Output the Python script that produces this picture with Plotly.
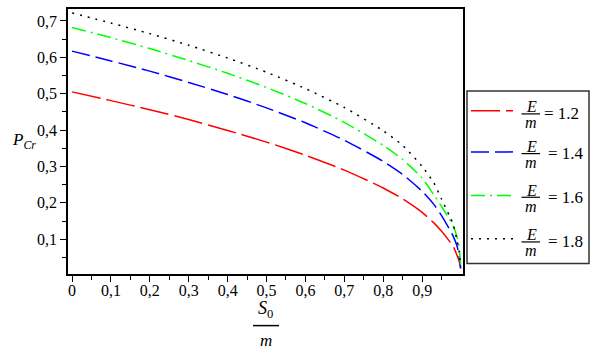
import plotly.graph_objects as go

# ---------------- data ----------------
s_over_m = [0, 0.1, 0.2, 0.3, 0.4, 0.5, 0.6, 0.7, 0.8, 0.85, 0.9, 0.93, 0.95,
            0.97, 0.98, 0.99, 0.995, 0.999]
p_e12 = [0.505, 0.481, 0.456, 0.429, 0.399, 0.367, 0.331, 0.290, 0.241, 0.211,
         0.174, 0.145, 0.122, 0.095, 0.080, 0.055, 0.040, 0.020]
p_e14 = [0.617, 0.590, 0.562, 0.531, 0.498, 0.461, 0.420, 0.372, 0.314, 0.278,
         0.232, 0.196, 0.165, 0.128, 0.108, 0.080, 0.055, 0.020]
p_e16 = [0.682, 0.654, 0.624, 0.591, 0.556, 0.517, 0.473, 0.421, 0.358, 0.319,
         0.268, 0.222, 0.190, 0.155, 0.136, 0.105, 0.078, 0.025]
p_e18 = [0.722, 0.694, 0.665, 0.633, 0.598, 0.559, 0.514, 0.462, 0.398, 0.358,
         0.300, 0.255, 0.210, 0.165, 0.140, 0.095, 0.065, 0.030]
e_over_m = ["1.2", "1.4", "1.6", "1.8"]

x_tickvals = [0, 0.1, 0.2, 0.3, 0.4, 0.5, 0.6, 0.7, 0.8, 0.9]
x_ticktext = ["0", "0,1", "0,2", "0,3", "0,4", "0,5", "0,6", "0,7", "0,8", "0,9"]
y_tickvals = [0.1, 0.2, 0.3, 0.4, 0.5, 0.6, 0.7]
y_ticktext = ["0,1", "0,2", "0,3", "0,4", "0,5", "0,6", "0,7"]

series = [p_e12, p_e14, p_e16, p_e18]
colors = ["#ff0000", "#0000ff", "#00ff00", "#000000"]
dashes = ["29px,6px", "18px,6px", "14px,5px,2px,5px", "2px,6px"]

# ---------------- layout helpers (pixel -> paper) ----------------
W, H = 599, 355
L, R, T, B = 68, 463, 7, 274


def px(x):
    return (x - L) / (R - L)


def py(y):
    return (B - y) / (B - T)


FONT = "Liberation Serif"

fig = go.Figure()
for vals, col, dsh, e in zip(series, colors, dashes, e_over_m):
    fig.add_trace(go.Scatter(
        x=s_over_m, y=vals, mode="lines",
        line=dict(color=col, width=1.5, dash=dsh, shape="spline", smoothing=0.6),
        name="E/m = " + e, showlegend=False,
    ))

annotations = []
shapes = []

# y-axis title P_Cr
annotations.append(dict(
    x=px(24), y=py(140), xref="paper", yref="paper",
    text="<i>P</i><sub><i>Cr</i></sub>", showarrow=False,
    font=dict(family=FONT, size=17, color="black"),
    xanchor="center", yanchor="middle"))

# x-axis title S_0 / m
annotations.append(dict(
    x=px(265), y=py(310), xref="paper", yref="paper",
    text="<i>S</i><sub>0</sub>", showarrow=False,
    font=dict(family=FONT, size=18, color="black"),
    xanchor="center", yanchor="middle"))
shapes.append(dict(type="line", xref="paper", yref="paper",
                   x0=px(253), x1=px(279), y0=py(326), y1=py(326),
                   line=dict(color="black", width=1.5)))
annotations.append(dict(
    x=px(266), y=py(341), xref="paper", yref="paper",
    text="<i>m</i>", showarrow=False,
    font=dict(family=FONT, size=17, color="black"),
    xanchor="center", yanchor="middle"))

# legend box
shapes.append(dict(type="rect", xref="paper", yref="paper",
                   x0=px(467), x1=px(589), y0=py(89.5), y1=py(263.5),
                   line=dict(color="#333333", width=1.5), fillcolor="white"))

bars = [112.7, 152.7, 196.7, 241.7]
lines_y = [109.5, 151, 195, 238.5]
eq_x = [542, 546, 546, 546]
for by, ly, col, dsh, e, ex in zip(bars, lines_y, colors, dashes, e_over_m, eq_x):
    shapes.append(dict(type="line", xref="paper", yref="paper",
                       x0=px(471), x1=px(513), y0=py(ly), y1=py(ly),
                       line=dict(color=col, width=1.5, dash=dsh)))
    shapes.append(dict(type="line", xref="paper", yref="paper",
                       x0=px(521.5), x1=px(540), y0=py(by), y1=py(by),
                       line=dict(color="black", width=1.2)))
    annotations.append(dict(
        x=px(531), y=py(by - 7), xref="paper", yref="paper",
        text="<i>E</i>", showarrow=False,
        font=dict(family=FONT, size=16, color="black"),
        xanchor="center", yanchor="middle"))
    annotations.append(dict(
        x=px(531), y=py(by + 9), xref="paper", yref="paper",
        text="<i>m</i>", showarrow=False,
        font=dict(family=FONT, size=16, color="black"),
        xanchor="center", yanchor="middle"))
    annotations.append(dict(
        x=px(ex), y=py(by), xref="paper", yref="paper",
        text="= " + e, showarrow=False,
        font=dict(family=FONT, size=17, color="black"),
        xanchor="left", yanchor="middle"))

fig.update_layout(
    width=W, height=H,
    margin=dict(l=L, r=W - R, t=T, b=H - B, pad=0),
    paper_bgcolor="white", plot_bgcolor="white",
    font=dict(family=FONT, size=15, color="black"),
    showlegend=False,
    xaxis=dict(
        range=[-0.0103, 1.005], tickmode="array",
        tickvals=x_tickvals, ticktext=x_ticktext,
        ticks="outside", ticklen=6, tickwidth=1.2, tickcolor="black",
        ticklabelstandoff=-5,
        minor=dict(tickmode="array",
                   tickvals=[0.05, 0.15, 0.25, 0.35, 0.45, 0.55, 0.65, 0.75, 0.85, 0.95],
                   ticks="outside", ticklen=4, tickwidth=1.2, tickcolor="black",
                   showgrid=False),
        showgrid=False, zeroline=False,
        showline=True, mirror=True, linecolor="black", linewidth=1.5,
        tickfont=dict(family=FONT, size=16, color="black"),
    ),
    yaxis=dict(
        range=[0.0046, 0.7327], tickmode="array",
        tickvals=y_tickvals, ticktext=y_ticktext,
        ticks="outside", ticklen=6, tickwidth=1.2, tickcolor="black",
        minor=dict(tickmode="array",
                   tickvals=[0.05, 0.15, 0.25, 0.35, 0.45, 0.55, 0.65],
                   ticks="outside", ticklen=4, tickwidth=1.2, tickcolor="black",
                   showgrid=False),
        showgrid=False, zeroline=False,
        showline=True, mirror=True, linecolor="black", linewidth=1.5,
        tickfont=dict(family=FONT, size=16, color="black"),
    ),
    annotations=annotations,
    shapes=shapes,
)

fig.write_html("out.html",
               config={"displayModeBar": False},
               post_script="document.body.style.margin='0';"
                           "document.body.style.overflow='hidden';")
